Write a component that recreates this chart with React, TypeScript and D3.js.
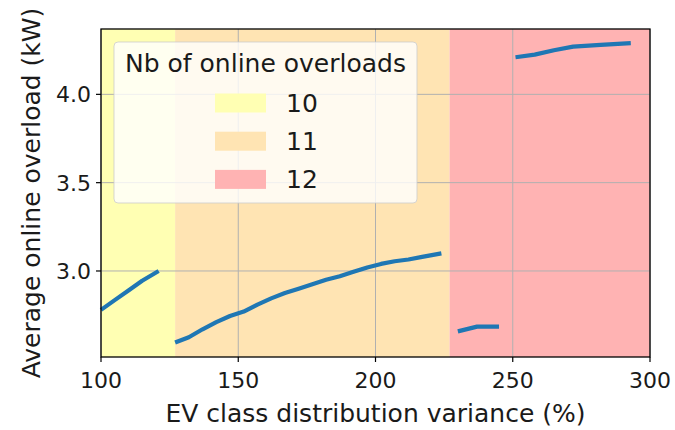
import React from "react";
import * as d3 from "d3";

const seg1X = [100, 105, 110, 115, 121];
const seg1Y = [2.78, 2.835, 2.89, 2.945, 3.0];
const seg2X = [127, 132, 137, 142, 147, 152, 157, 162, 167, 172, 177, 182, 187, 192, 197, 202, 207, 212, 217, 224];
const seg2Y = [2.595, 2.625, 2.67, 2.71, 2.745, 2.77, 2.81, 2.845, 2.875, 2.9, 2.925, 2.95, 2.97, 2.995, 3.02, 3.04, 3.055, 3.065, 3.08, 3.1];
const seg3X = [230, 237, 245];
const seg3Y = [2.658, 2.685, 2.685];
const seg4X = [251, 258, 265, 272, 282, 293];
const seg4Y = [4.21, 4.225, 4.25, 4.27, 4.28, 4.29];

const spanLabels = ["10", "11", "12"];
const spanStart = [100, 127, 227];
const spanEnd = [127, 227, 300];
const spanColors = ["#ffffb3", "#ffe4b3", "#ffb3b3"];

const xTicks = [100, 150, 200, 250, 300];
const yTicks = [3.0, 3.5, 4.0];

const W = 675, H = 430;
const L = 101, R = 650, T = 29, B = 357;
const FONT = "DejaVu Sans, sans-serif";
const TICK_FS = 22;
const LABEL_FS = 25;

export default function App() {
  const x = d3.scaleLinear().domain([100, 300]).range([L, R]);
  const y = d3.scaleLinear().domain([2.513, 4.37]).range([B, T]);
  const line = d3.line<[number, number]>().x(d => x(d[0])).y(d => y(d[1]));
  const segs = [
    [seg1X, seg1Y],
    [seg2X, seg2Y],
    [seg3X, seg3Y],
    [seg4X, seg4Y],
  ].map(([xs, ys]) => xs.map((v, i) => [v, ys[i]] as [number, number]));

  const legX = 114, legY = 42, legW = 303, legH = 161;
  return (
    <svg width={W} height={H} style={{ position: "absolute", left: 0, top: 0 }} fontFamily={FONT}>
      <rect width={W} height={H} fill="#fff" />
      {spanStart.map((s, i) => (
        <rect key={i} x={x(s)} y={T} width={x(spanEnd[i]) - x(s)} height={B - T} fill={spanColors[i]} />
      ))}
      {xTicks.map(t => (
        <line key={"gx" + t} x1={x(t)} x2={x(t)} y1={T} y2={B} stroke="#b0b0b0" strokeWidth={1} />
      ))}
      {yTicks.map(t => (
        <line key={"gy" + t} x1={L} x2={R} y1={y(t)} y2={y(t)} stroke="#b0b0b0" strokeWidth={1} />
      ))}
      {segs.map((s, i) => (
        <path key={i} d={line(s) || ""} fill="none" stroke="#1f77b4" strokeWidth={4.2} strokeLinecap="butt" strokeLinejoin="round" />
      ))}
      <rect x={L} y={T} width={R - L} height={B - T} fill="none" stroke="#000" strokeWidth={1.3} />
      {xTicks.map(t => (
        <g key={"tx" + t}>
          <line x1={x(t)} x2={x(t)} y1={B} y2={B + 5} stroke="#000" strokeWidth={1.2} />
          <text x={x(t)} y={388} textAnchor="middle" fontSize={TICK_FS} fill="#1a1a1a">{t}</text>
        </g>
      ))}
      {yTicks.map(t => (
        <g key={"ty" + t}>
          <line x1={L - 5} x2={L} y1={y(t)} y2={y(t)} stroke="#000" strokeWidth={1.2} />
          <text x={L - 10} y={y(t)} dy="0.36em" textAnchor="end" fontSize={TICK_FS} fill="#1a1a1a">{t.toFixed(1)}</text>
        </g>
      ))}
      <text x={(L + R) / 2} y={422} textAnchor="middle" fontSize={LABEL_FS} fill="#1a1a1a">EV class distribution variance (%)</text>
      <text transform={`translate(40,${(T + B) / 2}) rotate(-90)`} textAnchor="middle" fontSize={LABEL_FS} fill="#1a1a1a">Average online overload (kW)</text>
      <rect x={legX} y={legY} width={legW} height={legH} rx={4} fill="#ffffff" fillOpacity={0.8} stroke="#cccccc" strokeOpacity={0.8} />
      <text x={legX + legW / 2} y={72} textAnchor="middle" fontSize={LABEL_FS} fill="#1a1a1a">Nb of online overloads</text>
      {spanLabels.map((lab, i) => {
        const cy = 103 + i * 38.2;
        return (
          <g key={lab}>
            <rect x={215} y={cy - 9.5} width={51} height={19} fill={spanColors[i]} />
            <text x={286} y={cy} dy="0.36em" fontSize={LABEL_FS} fill="#1a1a1a">{lab}</text>
          </g>
        );
      })}
    </svg>
  );
}
